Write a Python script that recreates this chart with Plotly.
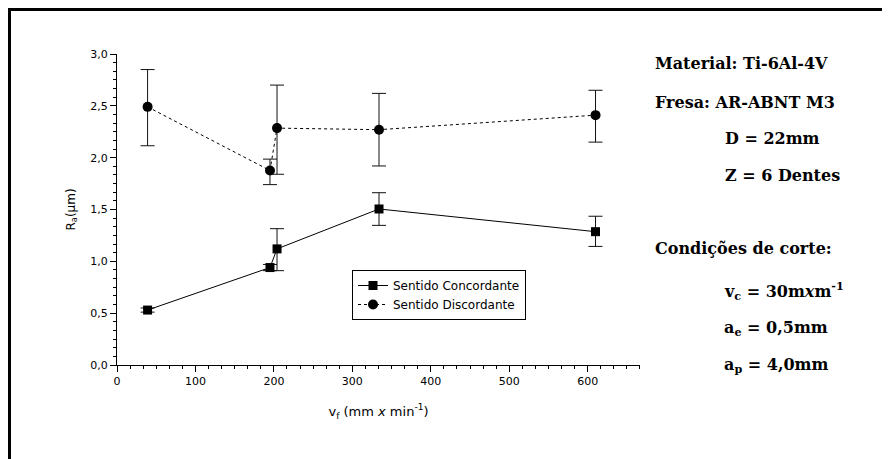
import plotly.graph_objects as go

# ---- data ----
vf = [39, 195, 204, 334, 610]
ra_conc = [0.53, 0.94, 1.12, 1.505, 1.286]
ra_conc_plus = [0.02, 0.03, 0.195, 0.157, 0.149]
ra_conc_minus = [0.02, 0.03, 0.21, 0.158, 0.142]
ra_disc = [2.49, 1.876, 2.285, 2.27, 2.41]
ra_disc_plus = [0.36, 0.11, 0.415, 0.35, 0.24]
ra_disc_minus = [0.375, 0.136, 0.445, 0.35, 0.26]
x_ticks = [0, 100, 200, 300, 400, 500, 600]
y_ticks = [0.0, 0.5, 1.0, 1.5, 2.0, 2.5, 3.0]
legend_names = ["Sentido Concordante", "Sentido Discordante"]

# ---- layout geometry (screen pixels; page body has an 8px margin) ----
W, H = 890, 459
OFF = 8
L, R, T, B = 117, 640, 54, 365
pw, ph = R - L, B - T


def px(xs):
    return (xs - L) / pw


def py(ys):
    return (B - ys) / ph


SANS = "DejaVu Sans, Arial, sans-serif"
SERIF = "DejaVu Serif, Times New Roman, serif"

fig = go.Figure()
fig.add_trace(go.Scatter(
    x=vf, y=ra_conc, name=legend_names[0], mode="lines+markers",
    line=dict(color="black", width=1),
    marker=dict(symbol="square", size=9, color="black"),
    error_y=dict(type="data", symmetric=False, array=ra_conc_plus,
                 arrayminus=ra_conc_minus, color="#111", thickness=1, width=7),
))
fig.add_trace(go.Scatter(
    x=vf, y=ra_disc, name=legend_names[1], mode="lines+markers",
    line=dict(color="black", width=1, dash="dot"),
    marker=dict(symbol="circle", size=10, color="black"),
    error_y=dict(type="data", symmetric=False, array=ra_disc_plus,
                 arrayminus=ra_disc_minus, color="#111", thickness=1, width=7),
))

axis_font = dict(family=SANS, size=11, color="black")

fig.update_xaxes(
    range=[0, 666.7], tickvals=x_ticks, ticktext=[str(v) for v in x_ticks],
    showline=True, linecolor="black", linewidth=1, mirror=False,
    ticks="outside", ticklen=6, tickwidth=1, tickcolor="black",
    minor=dict(dtick=100 / 6, tick0=0, ticks="outside", ticklen=3, tickcolor="black", showgrid=False),
    showgrid=False, zeroline=False, tickfont=axis_font,
    title=dict(text="v<sub>f</sub> (mm <i>x</i> min<sup>-1</sup>)",
               font=dict(family=SANS, size=13, color="black"), standoff=19),
)
fig.update_yaxes(
    range=[0, 3.0], tickvals=y_ticks, ticktext=[f"{v:.1f}".replace(".", ",") for v in y_ticks],
    showline=True, linecolor="black", linewidth=1, mirror=False,
    ticks="outside", ticklen=6, tickwidth=1, tickcolor="black",
    minor=dict(dtick=0.5 / 6, tick0=0, ticks="outside", ticklen=3, tickcolor="black", showgrid=False),
    showgrid=False, zeroline=False, tickfont=axis_font,
    title=dict(text="R<sub>a</sub>(μm)", font=dict(family=SANS, size=12, color="black"), standoff=12),
)

annots = [
    ("Material: Ti-6Al-4V", 653, 63),
    ("Fresa: AR-ABNT M3", 653, 102),
    ("D = 22mm", 723, 138),
    ("Z = 6 Dentes", 723, 175),
    ("Condições de corte:", 653, 249),
    ("v<sub>c</sub> = 30m<i>x</i>m<sup>-1</sup>", 722, 291),
    ("a<sub>e</sub> = 0,5mm", 722, 328),
    ("a<sub>p</sub> = 4,0mm", 722, 365),
]
for txt, xs, ys in annots:
    fig.add_annotation(
        text="<b>" + txt + "</b>", x=px(xs), y=py(ys), xref="paper", yref="paper",
        xanchor="left", yanchor="middle", showarrow=False,
        font=dict(family=SERIF, size=16, color="black"),
    )

# outer frame (partially cut off at right and bottom)
fig.add_shape(type="rect", xref="paper", yref="paper",
              x0=px(9.5), y0=py(540), x1=px(1000), y1=py(9.5),
              line=dict(color="black", width=3), fillcolor="rgba(0,0,0,0)", layer="above")

fig.update_layout(
    width=W, height=H,
    margin=dict(l=L - OFF, r=W - (R - OFF), t=T - OFF, b=H - (B - OFF)),
    paper_bgcolor="white", plot_bgcolor="white",
    showlegend=True,
    legend=dict(x=px(352), y=py(270), xanchor="left", yanchor="top",
                bordercolor="black", borderwidth=1, bgcolor="white",
                font=dict(family=SANS, size=12, color="black"),
                tracegroupgap=0, itemwidth=30),
    separators=",.",
)

fig.write_html("out.html")
